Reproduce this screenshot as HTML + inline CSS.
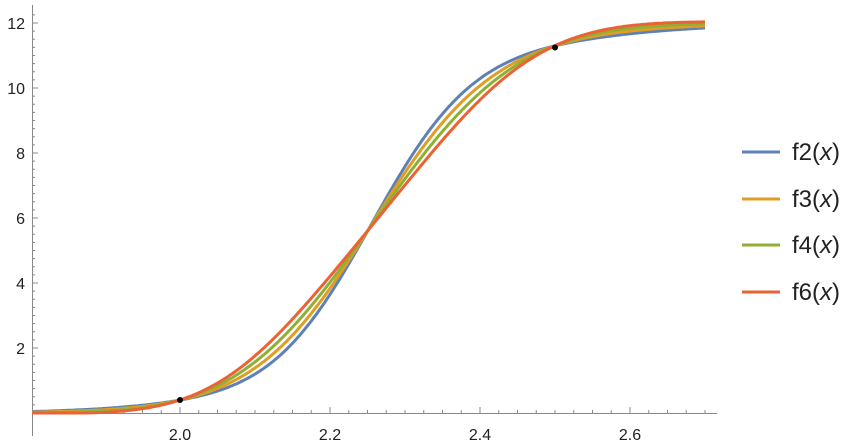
<!DOCTYPE html><html><head><style>body{margin:0;background:#fff}svg{display:block}text{font-family:"Liberation Sans",sans-serif;fill:#222}</style></head><body>
<svg id="s" width="864" height="446" xmlns="http://www.w3.org/2000/svg">
<g stroke="#888" stroke-width="1" id="ax">
<line x1="32" y1="413.5" x2="717" y2="413.5"/><line x1="32.5" y1="5" x2="32.5" y2="436"/>
</g>
<g font-size="16" text-anchor="middle">
<text x="180" y="440">2.0</text><text x="330" y="440">2.2</text><text x="480" y="440">2.4</text><text x="630" y="440">2.6</text>
</g>
<g font-size="16" text-anchor="end">
<text x="25" y="354">2</text><text x="25" y="289">4</text><text x="25" y="224">6</text><text x="25" y="159">8</text><text x="25" y="94">10</text><text x="25" y="29">12</text>
</g>
<g id="curves" fill="none" stroke-width="3"></g>
<circle cx="180" cy="400" r="3" fill="#000"/><circle cx="555" cy="47.5" r="3" fill="#000"/>
<g stroke-width="3">
<line x1="742" y1="152" x2="780" y2="152" stroke="#5E81B5"/>
<line x1="742" y1="199" x2="780" y2="199" stroke="#E19C24"/>
<line x1="742" y1="245" x2="780" y2="245" stroke="#8FB032"/>
<line x1="742" y1="292" x2="780" y2="292" stroke="#EB6235"/>
</g>
<g font-size="24">
<text x="792" y="160">f2(<tspan font-style="italic">x</tspan>)</text>
<text x="792" y="207">f3(<tspan font-style="italic">x</tspan>)</text>
<text x="792" y="253">f4(<tspan font-style="italic">x</tspan>)</text>
<text x="792" y="300">f6(<tspan font-style="italic">x</tspan>)</text>
</g>
</svg>
<script>
var ns="http://www.w3.org/2000/svg",ax=document.getElementById("ax");
function L(x1,y1,x2,y2){var l=document.createElementNS(ns,"line");l.setAttribute("x1",x1);l.setAttribute("y1",y1);l.setAttribute("x2",x2);l.setAttribute("y2",y2);ax.appendChild(l);}
for(var i=0;i<=36;i++){var v=1.8+i*0.025,px=30+(v-1.8)*750;if(px<32||px>717)continue;var maj=(i%8==0);L(px,413,px,413-(maj?6:3));}
for(var j=0;j<=60;j++){var v=j*0.25,py=413-v*32.5;if(py<8)continue;var maj=(j%8==0);L(32,py,32+(maj?6:3),py);}
function erf(x){var s=x<0?-1:1;x=Math.abs(x);var t=1/(1+0.3275911*x);var y=1-(((((1.061405429*t-1.453152027)*t)+1.421413741)*t-0.284496736)*t+0.254829592)*t*Math.exp(-x*x);return s*y;}
function Phi(z){return 0.5*(1+erf(z/Math.SQRT2));}
function f2(x){var t=x-2.25,u=-0.134+12.3*t-2.58*t*t;return 12/(1+Math.exp(-u));}
function f6(x){var t=x-2.25,a=-0.0836,b=(1.569+1.834)/0.5,c=(1.569-1.834-2*a)/(2*0.0625);return 12*Phi(a+b*t+c*t*t);}
var cols=["#5E81B5","#E19C24","#8FB032","#EB6235"],w=[0,1/3,2/3,1],g=document.getElementById("curves");
for(var k=0;k<4;k++){var d="";for(var x=1.803;x<=2.7001;x+=0.003){var a=f2(x),b=f6(x),m=(a+b)/2,df=b-a;var y=m+(w[k]-0.5)*3*df;if(y<0)y=0;d+=(d?"L":"M")+(30+(x-1.8)*750).toFixed(1)+","+(413-y*32.5).toFixed(1);}
var p=document.createElementNS(ns,"path");p.setAttribute("d",d);p.setAttribute("stroke",cols[k]);g.appendChild(p);}
</script>
</body></html>
